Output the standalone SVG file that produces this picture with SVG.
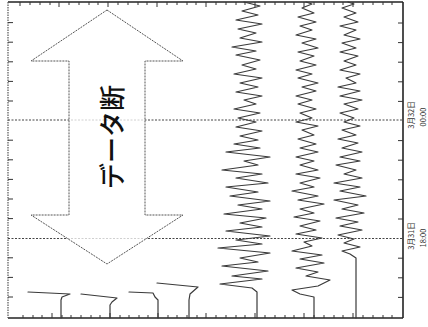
<svg xmlns="http://www.w3.org/2000/svg" width="428" height="327" viewBox="0 0 428 327">
<defs>
<style>
.frame{stroke:#222;stroke-width:1.6;fill:none}
.tick{stroke:#333;stroke-width:1;fill:none}
.grid{stroke:#444;stroke-width:1;stroke-dasharray:2 1.5;fill:none}
.wave{stroke:#3a3a3a;stroke-width:1.2;fill:none;stroke-linejoin:round;stroke-linecap:round}
.arrow{stroke:#555;stroke-width:1;stroke-dasharray:2 1;fill:#fff;fill-opacity:0.75}
.lbl{font-family:"Noto Sans CJK JP","Noto Sans",sans-serif;font-size:7.5px;fill:#333}
.big{font-family:"Noto Sans CJK JP","Noto Sans",sans-serif;font-size:26px;font-weight:500;fill:#111}
</style>
</defs>
<rect width="428" height="327" fill="#fff"/>
<g id="frame">
<line class="frame" x1="8" y1="2" x2="403" y2="2" stroke-width="2.4"/>
<line class="frame" x1="403" y1="2" x2="403" y2="318"/>
<line class="frame" x1="8" y1="318" x2="403" y2="318"/>
<line x1="8" y1="2" x2="8" y2="318" stroke="#555" stroke-width="1.2" stroke-dasharray="1.5 1"/>
<path class="tick" d="M8 22.6h5M8 42.2h5M8 61.8h5M8 81.4h5M8 101h5M8 140.2h5M8 159.8h5M8 179.4h5M8 199h5M8 218.6h5M8 257.8h5M8 277.4h5M8 297h5"/>
<path class="tick" d="M403 23h-5M403 42.6h-5M403 62.2h-5M403 81.8h-5M403 101.4h-5M403 140.6h-5M403 160.2h-5M403 179.8h-5M403 199.4h-5M403 219h-5M403 258.2h-5M403 277.8h-5M403 297.4h-5"/>
<path class="tick" d="M20 2v4M59 2v5M108 2v5M157 2v5M206 2v5M255 2v5M304 2v5M353 2v5M30 2v3M40 2v3M50 2v3M69 2v3M79 2v3M89 2v3M98 2v3M118 2v3M128 2v3M138 2v3M147 2v3M167 2v3M177 2v3M187 2v3M196 2v3M216 2v3M226 2v3M236 2v3M245 2v3M265 2v3M275 2v3M285 2v3M294 2v3M314 2v3M324 2v3M334 2v3M343 2v3M363 2v3M373 2v3M383 2v3M392 2v3"/>
<path class="tick" d="M52 318v-5M110 318v-5M158 318v-5M206 318v-5M255 318v-5M304 318v-5M353 318v-5M23 318v-3M33 318v-3M42 318v-3M62 318v-3M71 318v-3M81 318v-3M91 318v-3M100 318v-3M120 318v-3M129 318v-3M139 318v-3M148 318v-3M168 318v-3M177 318v-3M187 318v-3M197 318v-3M216 318v-3M226 318v-3M236 318v-3M245 318v-3M265 318v-3M275 318v-3M285 318v-3M294 318v-3M314 318v-3M324 318v-3M334 318v-3M343 318v-3M363 318v-3M373 318v-3M383 318v-3M392 318v-3"/>
</g>
<g id="gridlines">
<line class="grid" x1="8" y1="120" x2="403" y2="120"/>
<line class="grid" x1="8" y1="238.5" x2="403" y2="238.5"/>
</g>
<g id="traces">
<polyline class="wave" points="61,318 61,300 62,297 70,294 28,292"/>
<polyline class="wave" points="110,318 110,305 112,302 117,298 81,294"/>
<polyline class="wave" points="158,318 158,300 155,297 153,293 129,292"/>
<polyline class="wave" points="189,318 189,300 190,294 198,287 157,283"/>
<polyline class="wave" points="257,318 257,292 252,288 220,284 262,279 232,276 268,271 222,266 258,262 240,258 270,253 218,248 262,244 236,240 270,236 226,231 262,227 240,223 266,218 224,214 262,209 238,205 270,201 230,196 258,192 226,187 268,183 236,178 262,174 222,170 258,165 244,161 270,157 226,152 260,148 234,144 258,140 240,136 262,131 236,127 256,122 238,118 260,113 234,109 256,104 244,100 262,96 236,92 258,87 240,83 262,78 234,74 256,69 242,65 260,60 236,55 256,51 232,47 262,42 240,38 256,33 238,29 262,24 236,20 258,15 242,11 260,6 244,2"/>
<polyline class="wave" points="314,318 314,297 300,294 292,290 318,286 330,280 306,276 318,272 296,268 324,263 300,259 322,255 292,251 312,246 304,242 322,238 296,234 316,230 300,226 320,221 294,217 314,213 300,209 324,204 298,200 318,196 292,191 314,187 300,183 320,178 296,174 318,170 300,165 314,161 296,157 318,152 300,148 316,144 298,139 314,135 302,130 318,126 296,122 312,118 300,113 316,109 298,104 312,100 296,96 316,91 302,87 318,83 298,78 312,74 296,70 316,65 300,61 314,56 298,52 318,48 302,43 316,39 296,35 312,30 300,26 316,22 298,17 314,13 302,8 312,4 306,2"/>
<polyline class="wave" points="356,318 356,258 350,254 342,251 360,247 344,243 354,239 338,235 362,230 340,226 358,222 336,218 364,213 342,209 358,205 334,200 366,196 340,191 360,187 334,183 362,178 344,174 356,170 336,165 360,161 340,157 362,152 342,148 358,143 338,139 356,135 342,130 360,126 344,122 354,118 340,113 358,109 344,104 362,100 340,96 360,91 338,87 356,83 346,78 360,74 340,70 356,65 344,61 358,56 340,52 356,48 342,43 360,39 344,35 356,30 340,26 358,22 344,17 356,13 342,8 354,4 348,2"/>
</g>
<g id="gap-arrow">
<polygon class="arrow" points="107,10 183,61 145,61 145,215 183,215 107,264 31,215 69,215 69,61 31,61"/>
<text class="big" transform="translate(110,137) rotate(-90)" text-anchor="middle" dominant-baseline="central">データ断</text>
</g>
<g id="label-upper">
<text class="lbl" transform="translate(413.5,115) rotate(-90)" text-anchor="middle">3月32日</text>
<text class="lbl" transform="translate(426,117) rotate(-90)" text-anchor="middle">00:00</text>
</g>
<g id="label-lower">
<text class="lbl" transform="translate(413.5,236) rotate(-90)" text-anchor="middle">3月31日</text>
<text class="lbl" transform="translate(426,238) rotate(-90)" text-anchor="middle">18:00</text>
</g>
</svg>
